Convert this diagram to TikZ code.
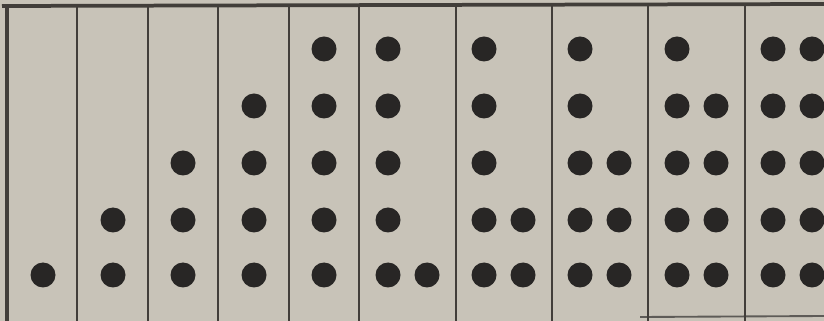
\documentclass[tikz,border=0pt]{standalone}
\usepackage{xcolor}
\usepackage{tikz}
\usetikzlibrary{positioning}
\definecolor{PaperGray}{RGB}{200,195,184}
\definecolor{InkDark}{RGB}{40,38,37}
\definecolor{RuleGray}{RGB}{66,62,58}

\begin{document}
\begin{tikzpicture}[x=0.03cm, y=-0.03cm]
		\useasboundingbox (0,0) rectangle (824,321);
		\clip (0,0) rectangle (824,321);
		\fill[PaperGray] (0,0) rectangle (824,321);
		% frame: heavy top rule and left rule
		\draw[RuleGray, line width=3.2pt] (2,6) -- (824,4);
		\draw[RuleGray, line width=2.6pt] (7,5) -- (7,321);
		\draw[RuleGray!85, line width=1.6pt] (640,317) -- (824,316);
		% column rules
		\foreach \x in {77,148,218,289,359,456,552,648,745}
			\draw[RuleGray, line width=1.6pt] (\x,5) -- (\x,321);
		% rows of the dots, bottom up: 275, 220, 163, 106, 49
		\foreach \y in {275} \fill[InkDark] (43,\y) circle (12.5);
		\foreach \y in {275,220} \fill[InkDark] (113,\y) circle (12.5);
		\foreach \y in {275,220,163} \fill[InkDark] (183,\y) circle (12.5);
		\foreach \y in {275,220,163,106} \fill[InkDark] (254,\y) circle (12.5);
		\foreach \y in {275,220,163,106,49} \fill[InkDark] (324,\y) circle (12.5);
		% second dot appears in the bottom row first
		\foreach \y in {275,220,163,106,49} \fill[InkDark] (388,\y) circle (12.5);
		\fill[InkDark] (427,275) circle (12.5);
		\foreach \y in {275,220,163,106,49} \fill[InkDark] (484,\y) circle (12.5);
		\foreach \y in {275,220} \fill[InkDark] (523,\y) circle (12.5);
		\foreach \y in {275,220,163,106,49} \fill[InkDark] (580,\y) circle (12.5);
		\foreach \y in {275,220,163} \fill[InkDark] (619,\y) circle (12.5);
		\foreach \y in {275,220,163,106,49} \fill[InkDark] (677,\y) circle (12.5);
		\foreach \y in {275,220,163,106} \fill[InkDark] (716,\y) circle (12.5);
		\foreach \y in {275,220,163,106,49} \fill[InkDark] (773,\y) circle (12.5);
		\foreach \y in {275,220,163,106,49} \fill[InkDark] (812,\y) circle (12.5);
	\end{tikzpicture}
\end{document}
